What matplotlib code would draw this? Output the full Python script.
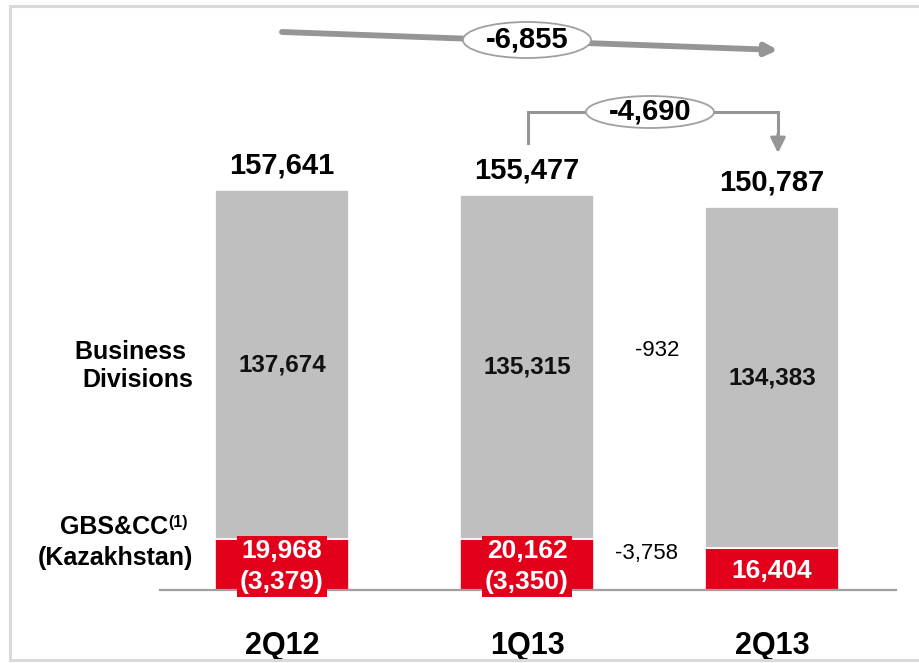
import matplotlib
matplotlib.use("Agg")
import matplotlib.pyplot as plt
from matplotlib.patches import Ellipse
from matplotlib.lines import Line2D

# ---------------- data ----------------
categories = ["2Q12", "1Q13", "2Q13"]
gbs_values = [19968, 20162, 16404]
gbs_kaz = ["(3,379)", "(3,350)", None]
business_values = [137674, 135315, 134383]
totals = [157641, 155477, 150787]
delta_total = "-6,855"
delta_q = "-4,690"
delta_business = "-932"
delta_gbs = "-3,758"

RED = "#E2001A"
GRAY = "#BFBFBF"
LINE = "#959595"
FONT = ["Liberation Sans", "DejaVu Sans"]
plt.rcParams["font.family"] = FONT

W, H = 919, 663
fig = plt.figure(figsize=(W / 100, H / 100), dpi=100)
fig.patch.set_facecolor("white")

base_px = 590          # baseline row (from top)
px_per_unit = 400 / 157641.0
ymax = base_px / px_per_unit
ax = fig.add_axes([0, (H - base_px) / H, 1, base_px / H])
spacing = 245.0
x0 = 282.0
ax.set_xlim(-x0 / spacing, (W - x0) / spacing)
ax.set_ylim(0, ymax)
ax.axis("off")

def py(pix):  # pixel row -> data value
    return (base_px - pix) / px_per_unit

def px(pix):  # pixel column -> data x
    return (pix - x0) / spacing

xs = list(range(len(categories)))
width = 0.55

ax.bar(xs, gbs_values, width=width, color=RED, edgecolor="white", linewidth=1.2, zorder=2)
ax.bar(xs, business_values, bottom=gbs_values, width=width, color=GRAY,
       edgecolor="white", linewidth=1.2, zorder=2)

# baseline
ax.axhline(0, xmin=160 / W, xmax=896 / W, color="#A0A0A0", lw=1.6, zorder=3, clip_on=False)

for i, x in enumerate(xs):
    # totals
    ax.annotate(f"{totals[i]:,}", (x, totals[i]), xytext=(0, 18), textcoords="offset points",
                ha="center", va="center", fontsize=21, fontweight="bold", color="black")
    # business label
    ax.text(x, gbs_values[i] + business_values[i] / 2, f"{business_values[i]:,}",
            ha="center", va="center", fontsize=17.5, fontweight="bold", color="#111111", zorder=4)
    # gbs label
    lbl = f"{gbs_values[i]:,}"
    if gbs_kaz[i]:
        lbl += "\n" + gbs_kaz[i]
    ax.annotate(lbl, (x, gbs_values[i] / 2), xytext=(0, -1.5), textcoords="offset points",
                ha="center", va="center", fontsize=19, fontweight="bold", color="white",
                linespacing=1.35, zorder=5,
                bbox=dict(boxstyle="square,pad=0.12", fc=RED, ec="none"))
    # category
    ax.annotate(categories[i], (x, 0), xytext=(0, -40), textcoords="offset points",
                ha="center", va="center", fontsize=22, fontweight="bold", color="black",
                annotation_clip=False)

# left side labels
ax.text(px(193), py(366), "Business \nDivisions", ha="right", va="center",
        multialignment="right", fontsize=18, fontweight="bold", linespacing=1.25)
ax.text(px(168), py(527), "GBS&CC", ha="right", va="center", fontsize=18, fontweight="bold")
ax.text(px(168.5), py(522), "(1)", ha="left", va="center", fontsize=11.5, fontweight="bold")
ax.text(px(193), py(558), "(Kazakhstan)", ha="right", va="center", fontsize=18,
        fontweight="bold")

# deltas between bars
ax.text(px(657), py(350), delta_business, ha="center", va="center", fontsize=16)
ax.text(px(647), py(554), delta_gbs, ha="center", va="center", fontsize=16)

# top arrow (2Q12 -> 2Q13)
ax.annotate("", xy=(px(778), py(50)), xytext=(0, py(32)),
            arrowprops=dict(arrowstyle="-|>,head_length=0.7,head_width=0.35", color=LINE,
                            lw=4.2, shrinkA=0, shrinkB=0), zorder=3, annotation_clip=False)
e1 = Ellipse((1.0, py(40)), 128 / spacing, 36 / px_per_unit, fc="white", ec="#A0A0A0",
             lw=1.3, zorder=4, clip_on=False)
ax.add_patch(e1)
ax.text(1.0, py(40), delta_total, ha="center", va="center", fontsize=21, fontweight="bold", zorder=5)

# bracket arrow (1Q13 -> 2Q13)
xb0, xb1 = 1.0 + 1 / spacing, px(778)
ax.plot([xb0, xb0, xb1, xb1], [py(143), py(112), py(112), py(135)], color=LINE, lw=2.2,
        zorder=3, solid_joinstyle="miter")
ax.annotate("", xy=(xb1, py(153)), xytext=(xb1, py(134)),
            arrowprops=dict(arrowstyle="-|>,head_length=0.9,head_width=0.45", color=LINE,
                            lw=2.2, shrinkA=0, shrinkB=0), zorder=3)
e2 = Ellipse((px(650), py(112)), 128 / spacing, 32 / px_per_unit, fc="white",
             ec="#A0A0A0", lw=1.3, zorder=4)
ax.add_patch(e2)
ax.text(px(650), py(112), delta_q, ha="center", va="center", fontsize=21,
        fontweight="bold", zorder=5)

# outer frame
fc = "#D9D9D9"
def fx(p): return p / W
def fy(p): return 1 - p / H
fig.add_artist(Line2D([fx(10), fx(10)], [fy(6), fy(660)], color=fc, lw=2.2))
fig.add_artist(Line2D([fx(10), fx(919)], [fy(6), fy(6)], color=fc, lw=2.2))
fig.add_artist(Line2D([fx(10), fx(919)], [fy(660), fy(660)], color=fc, lw=2.2))

fig.savefig("out.png", dpi=100, facecolor="white")
